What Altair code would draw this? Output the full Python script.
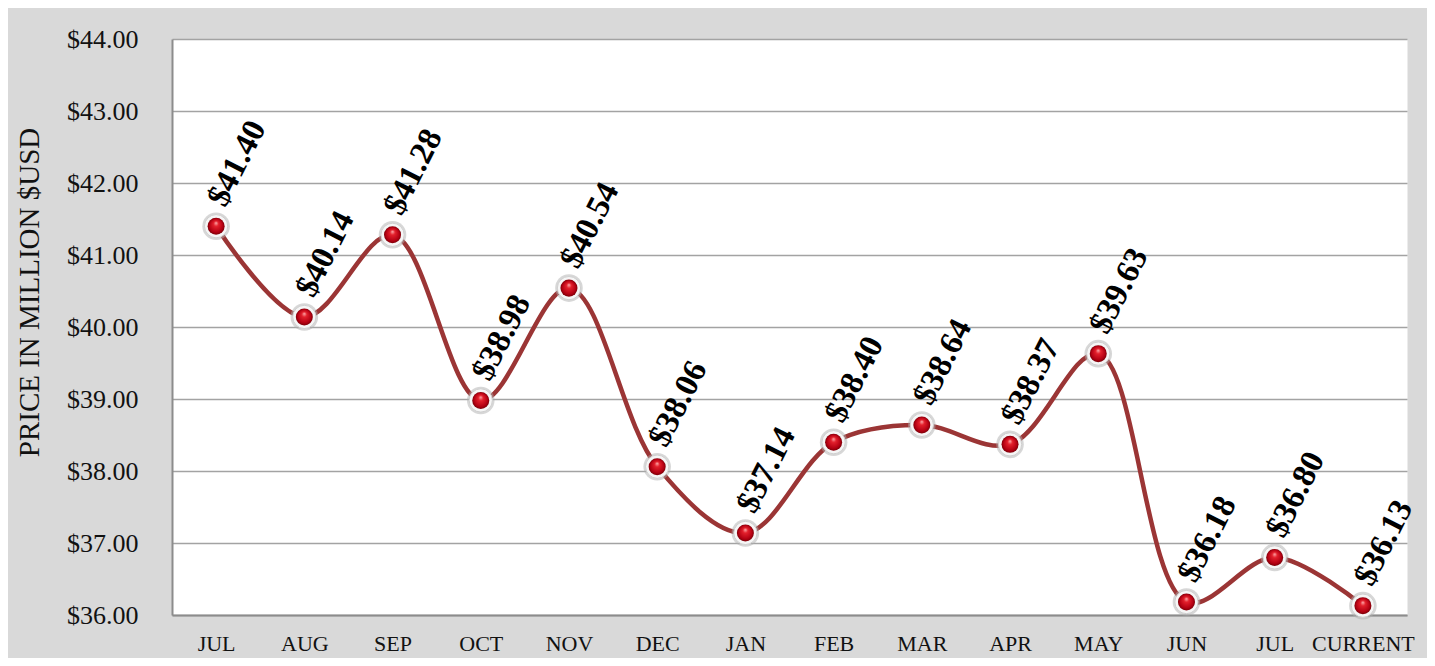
import altair as alt
import pandas as pd

months = ["JUL", "AUG", "SEP", "OCT", "NOV", "DEC", "JAN", "FEB", "MAR", "APR", "MAY", "JUN", "JUL", "CURRENT"]
prices = [41.40, 40.14, 41.28, 38.98, 40.54, 38.06, 37.14, 38.40, 38.64, 38.37, 39.63, 36.18, 36.80, 36.13]
y_ticks = [36, 37, 38, 39, 40, 41, 42, 43, 44]

df = pd.DataFrame({"idx": list(range(len(months))), "month": months, "price": prices})

label_expr = "[" + ",".join("'" + m + "'" for m in months) + "][datum.value]"

x = alt.X(
    "idx:Q",
    scale=alt.Scale(domain=[-0.5, len(months) - 0.5], nice=False, zero=False),
    axis=alt.Axis(
        values=list(range(len(months))),
        labelExpr=label_expr,
        title=None,
        grid=False,
        ticks=False,
        labelFont="Liberation Serif",
        labelFontSize=22,
        labelColor="#111111",
        labelPadding=18,
        domainColor="#8c8c8c",
        domainWidth=2,
    ),
)
y = alt.Y(
    "price:Q",
    scale=alt.Scale(domain=[36, 44], nice=False, zero=False),
    axis=alt.Axis(
        values=y_ticks,
        format="$.2f",
        title="PRICE IN MILLION $USD",
        titleFont="Liberation Serif",
        titleFontSize=29,
        titleFontWeight="normal",
        titleColor="#111111",
        titleX=-143,
        titleY=253,
        titleAngle=270,
        titleBaseline="middle",
        titleAlign="center",
        grid=True,
        gridColor="#a3a3a3",
        gridWidth=1.6,
        ticks=False,
        labelFont="Liberation Serif",
        labelFontSize=26,
        labelColor="#111111",
        labelPadding=34,
        domainColor="#8c8c8c",
        domainWidth=2,
    ),
)

base = alt.Chart(df).encode(x=x, y=y)

line = base.mark_line(interpolate="catmull-rom", color="#9b3535", strokeWidth=4.5)

shadow = base.mark_circle(color="#b0b0b0", opacity=0.5, size=760)
ring = base.mark_circle(color="#f6f6f6", opacity=1, size=540, stroke="#cfcfcf", strokeWidth=1)
sphere = base.mark_circle(
    opacity=1,
    size=290,
    color=alt.RadialGradient(
        gradient="radial",
        x1=0.5, y1=0.3, r1=0,
        x2=0.5, y2=0.5, r2=0.5,
        stops=[
            alt.GradientStop(offset=0, color="#ffb0b0"),
            alt.GradientStop(offset=0.3, color="#e3202c"),
            alt.GradientStop(offset=0.8, color="#b30012"),
            alt.GradientStop(offset=1, color="#7a0008"),
        ],
    ),
)

labels = base.mark_text(
    align="left",
    baseline="middle",
    angle=297,
    dx=20,
    dy=-10,
    font="Liberation Serif",
    fontSize=33,
    fontWeight="bold",
    color="#000000",
).encode(text=alt.Text("price:Q", format="$.2f"))

chart = (
    alt.layer(line, shadow, ring, sphere, labels)
    .properties(
        width=1235,
        height=576,
        autosize=alt.AutoSizeParams(type="none"),
        padding={"left": 164, "top": 31, "right": 20, "bottom": 43},
        background="#d9d9d9",
    )
    .configure_view(fill="white", stroke="transparent")
)

chart.save("out.html", embed_options={"renderer": "svg", "actions": False})
